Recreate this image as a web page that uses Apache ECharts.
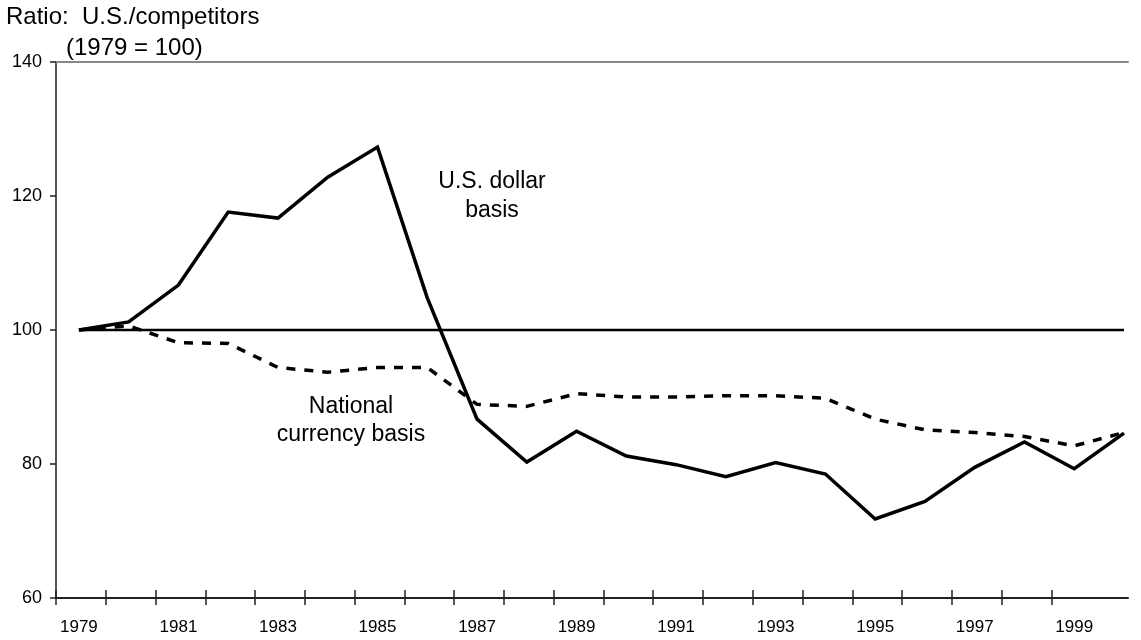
<!DOCTYPE html>
<html>
<head>
<meta charset="utf-8">
<script src="https://cdn.jsdelivr.net/npm/echarts@6/dist/echarts.min.js"></script>
<style>
html,body{margin:0;padding:0;background:#fff;}
#chart{width:1141px;height:640px;}
</style>
</head>
<body>
<div id="chart"></div>
<script>
// ---- data ----
const years = [1979,1980,1981,1982,1983,1984,1985,1986,1987,1988,1989,1990,1991,1992,1993,1994,1995,1996,1997,1998,1999,2000];
const usDollarBasis = [100,101.2,106.7,117.6,116.7,122.8,127.3,104.8,86.7,80.3,84.9,81.2,79.9,78.1,80.2,78.5,71.8,74.4,79.5,83.3,79.3,84.6];
const nationalCurrencyBasis = [100,100.6,98.1,98.0,94.4,93.7,94.4,94.4,88.9,88.6,90.5,90.0,90.0,90.2,90.2,89.8,86.7,85.1,84.7,84.1,82.7,84.7];
const referenceYears = [1979, 2000];
const referenceLevel = [100, 100];
const xTickLabels = [1979,1981,1983,1985,1987,1989,1991,1993,1995,1997,1999];
const yTickLabels = [60,80,100,120,140];
const titleLine1 = 'Ratio:  U.S./competitors';
const titleLine2 = '(1979 = 100)';
const labelUS = 'U.S. dollar\nbasis';
const labelNational = 'National\ncurrency basis';

// ---- chart ----
const FONT = "'Liberation Sans', Arial, Helvetica, sans-serif";
const xMin = 1978.54, xMax = 2000.08;
const tickVals = [];
for (let i = 0; i < years.length - 1; i++) tickVals.push(+(xMin + i).toFixed(2));

const chart = echarts.init(document.getElementById('chart'), null, {renderer: 'canvas'});
const pair = (xs, ys) => xs.map((x, i) => [x, ys[i]]);

chart.setOption({
  backgroundColor: '#fff',
  animation: false,
  textStyle: {fontFamily: FONT},
  title: [
    {text: titleLine1, left: 6, top: 5, textStyle: {fontFamily: FONT, fontSize: 24, fontWeight: 'normal', color: '#000'}, padding: 0},
    {text: titleLine2, left: 66, top: 36, textStyle: {fontFamily: FONT, fontSize: 24, fontWeight: 'normal', color: '#000'}, padding: 0}
  ],
  grid: {left: 56, right: 13, top: 62, bottom: 42, containLabel: false},
  xAxis: [
    {
      type: 'value', min: xMin, max: xMax, position: 'bottom',
      axisLine: {show: true, lineStyle: {color: '#222', width: 2}},
      axisTick: {show: true, inside: false, length: 7, customValues: tickVals, lineStyle: {color: '#222', width: 1.5}},
      axisLabel: {show: true, customValues: xTickLabels, margin: 21, fontSize: 17, color: '#000', fontFamily: FONT, formatter: v => String(v)},
      splitLine: {show: false}
    },
    {
      type: 'value', min: xMin, max: xMax, position: 'bottom',
      axisLine: {show: false},
      axisTick: {show: true, inside: true, length: 8, customValues: tickVals, lineStyle: {color: '#222', width: 1.5}},
      axisLabel: {show: false},
      splitLine: {show: false}
    },
    {
      type: 'value', min: xMin, max: xMax, position: 'top',
      axisLine: {show: true, lineStyle: {color: '#888', width: 2}},
      axisTick: {show: false}, axisLabel: {show: false}, splitLine: {show: false}
    }
  ],
  yAxis: {
    type: 'value', min: yTickLabels[0], max: yTickLabels[yTickLabels.length - 1], interval: 20,
    axisLine: {show: true, lineStyle: {color: '#555', width: 2}},
    axisTick: {show: true, inside: false, length: 6, lineStyle: {color: '#222', width: 1.5}},
    axisLabel: {margin: 14, fontSize: 18, color: '#000', fontFamily: FONT},
    splitLine: {show: false}
  },
  series: [
    {
      name: 'Reference', type: 'line', xAxisIndex: 0, data: pair(referenceYears, referenceLevel),
      showSymbol: false, symbol: 'none', lineStyle: {color: '#000', width: 2.5}, z: 2
    },
    {
      name: 'National currency basis', type: 'line', xAxisIndex: 0, data: pair(years, nationalCurrencyBasis),
      showSymbol: false, symbol: 'none', lineStyle: {color: '#000', width: 3.5, type: [9, 9]}, z: 3
    },
    {
      name: 'U.S. dollar basis', type: 'line', xAxisIndex: 0, data: pair(years, usDollarBasis),
      showSymbol: false, symbol: 'none', lineStyle: {color: '#000', width: 3.5, join: 'miter'}, z: 4
    }
  ],
  graphic: [
    {type: 'text', x: 492, y: 167, style: {text: labelUS, font: '23px ' + FONT, fill: '#000', align: 'center', verticalAlign: 'top', lineHeight: 29}},
    {type: 'text', x: 351, y: 393, style: {text: labelNational, font: '23px ' + FONT, fill: '#000', align: 'center', verticalAlign: 'top', lineHeight: 28}}
  ]
});
</script>
</body>
</html>
